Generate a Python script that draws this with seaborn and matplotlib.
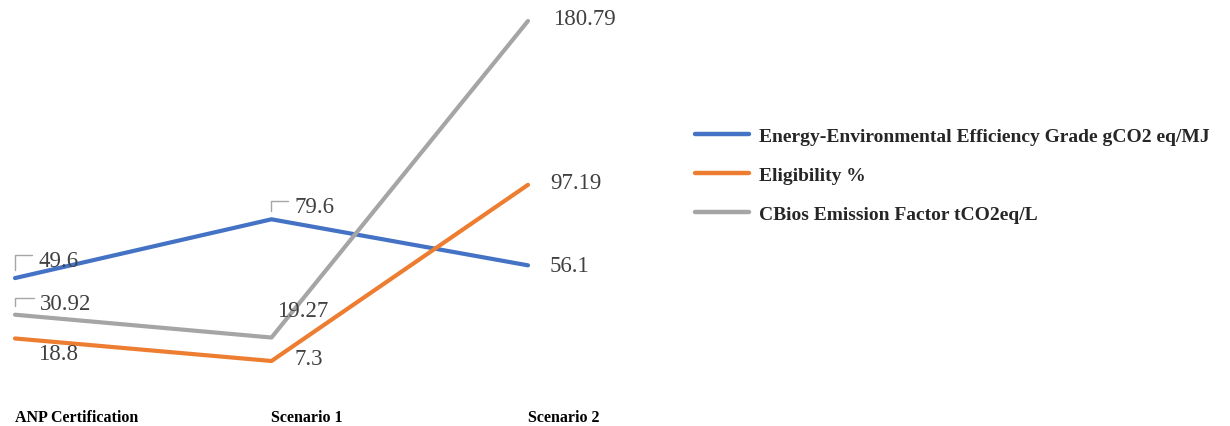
import matplotlib
matplotlib.use("Agg")
import matplotlib.pyplot as plt
import seaborn as sns
import pandas as pd

# Stages on the x axis
stages = ["ANP Certification", "Scenario 1", "Scenario 2"]

# Series values per stage
efficiency_grade = [49.6, 79.6, 56.1]
eligibility = [18.8, 7.3, 97.19]
cbios_factor = [30.92, 19.27, 180.79]

series_names = [
    "Energy-Environmental Efficiency Grade gCO2 eq/MJ",
    "Eligibility %",
    "CBios Emission Factor tCO2eq/L",
]
series_values = [efficiency_grade, eligibility, cbios_factor]
series_colors = ["#4472C4", "#ED7D31", "#A5A5A5"]

rows = []
for name, vals in zip(series_names, series_values):
    for stage, v in zip(stages, vals):
        rows.append({"stage": stage, "value": v, "series": name})
df = pd.DataFrame(rows)

sns.set_theme(style="white")
plt.rcParams["font.family"] = ["Liberation Serif", "DejaVu Serif"]

fig = plt.figure(figsize=(12.3, 4.27), dpi=100)
ax = fig.add_axes([0, 29 / 427, 1, 398 / 427])

sns.lineplot(
    data=df, x="stage", y="value", hue="series",
    hue_order=series_names, palette=series_colors,
    linewidth=3, sort=False, ax=ax,
)

ax.set_xlim(-0.0585, 4.737)
ax.set_ylim(-11.07, 192.0)

for s in ax.spines.values():
    s.set_visible(False)
ax.set_yticks([])
ax.set_xlabel("")
ax.set_ylabel("")
ax.set_xticks(range(len(stages)))
ax.set_xticklabels(stages, fontsize=11.5, fontweight="bold", color="black", ha="left")
ax.tick_params(axis="x", length=0, pad=9)

# Data labels (offsets in pixels: dx to text left edge, dy to text centre, upward positive)
label_offsets = {
    (0, 0): (23, 18, True), (0, 1): (23, 13, True), (0, 2): (22, 0, False),
    (1, 0): (23, -15, False), (1, 1): (23, 2, False), (1, 2): (22, 2, False),
    (2, 0): (25, 11, True), (2, 1): (6, 27, False), (2, 2): (25, 2, False),
}
for si, vals in enumerate(series_values):
    for xi, v in enumerate(vals):
        dx, dy, leader = label_offsets[(si, xi)]
        kw = {}
        if leader:
            kw["arrowprops"] = dict(
                arrowstyle="-", color="#A6A6A6", lw=1,
                connectionstyle="angle,angleA=0,angleB=90,rad=0",
                relpos=(0, 0.75), shrinkA=2, shrinkB=6,
            )
        ax.annotate(
            f"{v:g}", xy=(xi, v), xytext=(dx * 0.72, dy * 0.72),
            textcoords="offset points", ha="left", va="center",
            fontsize=16.5, color="#404040", **kw,
        )

handles, labels = ax.get_legend_handles_labels()
ax.get_legend().remove()
for h in handles:
    h.set_linewidth(3.2)
fig.legend(
    handles, labels, loc="upper left",
    bbox_to_anchor=(695 / 1230, 1 - 128 / 427),
    frameon=False, borderaxespad=0, borderpad=0,
    handlelength=2.8, handletextpad=0.5, labelspacing=1.1,
    prop={"family": "Liberation Serif", "weight": "bold", "size": 14},
)

fig.savefig("out.png", dpi=100, facecolor="white")
